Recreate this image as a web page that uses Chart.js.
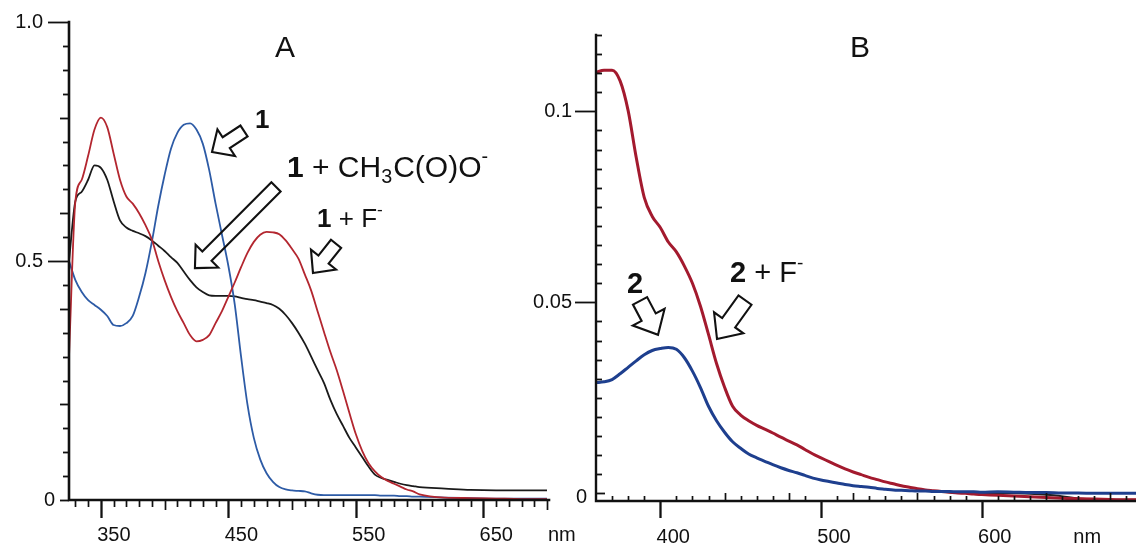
<!DOCTYPE html>
<html><head><meta charset="utf-8">
<script src="https://cdn.jsdelivr.net/npm/chart.js@4.4.1/dist/chart.umd.min.js"></script>
<style>
html,body{margin:0;padding:0;background:#fff;}
#wrap{position:relative;width:1136px;height:547px;overflow:hidden;background:#fff;}
#cA{position:absolute;left:0;top:0;}
#cB{position:absolute;left:520px;top:0;}
</style></head><body>
<div id="wrap"><canvas id="cA" width="600" height="547"></canvas><canvas id="cB" width="616" height="547"></canvas></div>
<script>
// ---------- Panel A data (wavelength nm, absorbance) ----------
const nmA = [325,330,335,340,345,350,355,360,365,370,375,380,385,390,395,400,405,410,415,420,425,430,435,440,445,450,455,460,465,470,475,480,485,490,495,500,505,510,515,520,525,530,535,540,545,550,555,560,565,570,575,580,585,590,595,600,620,640,660,680,700];
const absA_1 = [0.50,0.46,0.435,0.418,0.408,0.398,0.385,0.366,0.364,0.370,0.385,0.425,0.475,0.54,0.615,0.68,0.735,0.768,0.785,0.788,0.775,0.745,0.69,0.62,0.555,0.49,0.41,0.30,0.20,0.13,0.085,0.056,0.038,0.027,0.022,0.02,0.019,0.018,0.014,0.011,0.010,0.010,0.010,0.010,0.010,0.010,0.010,0.010,0.010,0.009,0.009,0.009,0.008,0.008,0.007,0.007,0.005,0.004,0.003,0.003,0.003];
const absA_1F = [0.30,0.625,0.67,0.72,0.775,0.80,0.78,0.725,0.67,0.635,0.62,0.60,0.575,0.545,0.50,0.46,0.425,0.395,0.37,0.345,0.332,0.335,0.345,0.37,0.395,0.425,0.455,0.487,0.517,0.54,0.555,0.561,0.56,0.556,0.543,0.525,0.505,0.472,0.438,0.395,0.352,0.31,0.272,0.228,0.182,0.138,0.103,0.077,0.06,0.048,0.04,0.034,0.028,0.022,0.018,0.012,0.005,0.004,0.003,0.002,0.002];
const absA_1Ac = [0.50,0.625,0.645,0.67,0.70,0.695,0.67,0.625,0.585,0.570,0.563,0.558,0.552,0.543,0.532,0.521,0.508,0.496,0.478,0.46,0.445,0.435,0.428,0.427,0.427,0.427,0.426,0.423,0.42,0.418,0.415,0.412,0.408,0.400,0.387,0.37,0.35,0.327,0.30,0.272,0.245,0.21,0.18,0.155,0.13,0.11,0.09,0.07,0.053,0.046,0.042,0.038,0.034,0.031,0.029,0.027,0.024,0.021,0.02,0.02,0.02];
const xTickLabelsA = [350,450,550,650];
const yTickLabelsA = [0,0.5,1.0];
const yTickTextA = ['0','0.5','1.0'];

// ---------- Panel B data ----------
const nmB = [360,365,370,375,380,385,390,395,400,405,410,415,420,425,430,435,440,445,450,455,460,465,470,475,480,485,490,495,500,505,510,515,520,525,530,535,540,545,550,555,560,565,570,575,580,585,590,595,600,610,620,630,640,650,660,670,680,690,700];
const absB_2 = [0.029,0.0292,0.0298,0.0313,0.033,0.0347,0.0363,0.0374,0.0379,0.0382,0.0377,0.0355,0.032,0.0277,0.0228,0.019,0.016,0.0135,0.0118,0.0103,0.0093,0.0084,0.0075,0.0067,0.006,0.0054,0.0047,0.004,0.0035,0.0031,0.0027,0.0023,0.002,0.0018,0.0016,0.0013,0.0011,0.0009,0.0008,0.0007,0.0006,0.0006,0.0005,0.0005,0.0005,0.0004,0.0004,0.0004,0.0003,0.0004,0.0003,0.0002,0.0002,0.0001,0.0001,0.0,0.0,0.0,0.0];
const absB_2F = [0.1102,0.1108,0.1108,0.108,0.1002,0.088,0.0775,0.0725,0.0696,0.0658,0.0632,0.0595,0.055,0.049,0.0416,0.034,0.0278,0.0228,0.0205,0.019,0.0178,0.0168,0.0158,0.0147,0.0137,0.0127,0.0115,0.0103,0.0093,0.0083,0.0073,0.0064,0.0056,0.0049,0.0042,0.0036,0.003,0.0025,0.002,0.0016,0.0012,0.0009,0.0007,0.0005,0.0003,0.0001,0.0,-0.0002,-0.0003,-0.0005,-0.0007,-0.0009,-0.0011,-0.0013,-0.0014,-0.0015,-0.0016,-0.0017,-0.0017];
const nmBase = [575,600,630,645,660,700];
const absBase = [0.0003,0.0001,-0.0001,-0.0005,-0.0013,-0.0017];
const xTickLabelsB = [400,500,600];
const yTickLabelsB = [0,0.05,0.1];
const yTickTextB = ['0','0.05','0.1'];

// ---------- annotations (in data coordinates) ----------
const notesA = {
  title: {text:'A', x:494.5, y:0.927},
  labels: [
    {x:470.9, y:0.778, size:26, segs:[{t:'1',b:1}]},
    {x:496.0, y:0.676, size:30, segs:[{t:'1',b:1},{t:' + CH'},{t:'3',sub:1},{t:'C(O)O'},{t:'-',sup:1}]},
    {x:519.6, y:0.571, size:26, segs:[{t:'1',b:1},{t:' + F'},{t:'-',sup:1}]}
  ],
  arrows: [
    {tip:[437.2,0.728], tail:[462.3,0.772]},
    {tip:[423.8,0.485], tail:[487.4,0.655]},
    {tip:[516.4,0.475], tail:[534.5,0.536]}
  ]
};
const notesB = {
  title: {text:'B', x:524.3, y:0.1142},
  labels: [
    {x:379.3, y:0.0525, size:29, segs:[{t:'2',b:1}]},
    {x:443.4, y:0.0553, size:29, segs:[{t:'2',b:1},{t:' + F'},{t:'-',sup:1}]}
  ],
  arrows: [
    {tip:[398.6,0.0415], tail:[387.4,0.0504]},
    {tip:[435.3,0.0404], tail:[452.7,0.0506]}
  ]
};

const FONT = '"Liberation Sans", Arial, Helvetica, sans-serif';

function pts(xs, ys){ return xs.map((x,i)=>({x:x, y:ys[i]})); }

function drawRich(ctx, segs, x, y, size){
  let cx = x;
  segs.forEach(s=>{
    const sz = (s.sub||s.sup) ? size*0.66 : size;
    ctx.font = (s.b?'bold ':'') + sz.toFixed(1) + 'px ' + FONT;
    const dy = s.sub ? size*0.22 : (s.sup ? -size*0.45 : 0);
    ctx.fillText(s.t, cx, y+dy);
    cx += ctx.measureText(s.t).width + (s.sub?1:0);
  });
}

function drawArrow(ctx, T, S, headLen, headW, shaftW){
  const dx=S[0]-T[0], dy=S[1]-T[1], L=Math.hypot(dx,dy);
  const ux=dx/L, uy=dy/L, nx=-uy, ny=ux;
  const Hx=T[0]+ux*headLen, Hy=T[1]+uy*headLen;
  const p=[
    [T[0],T[1]],
    [Hx+nx*headW/2, Hy+ny*headW/2],
    [Hx+nx*shaftW/2, Hy+ny*shaftW/2],
    [S[0]+nx*shaftW/2, S[1]+ny*shaftW/2],
    [S[0]-nx*shaftW/2, S[1]-ny*shaftW/2],
    [Hx-nx*shaftW/2, Hy-ny*shaftW/2],
    [Hx-nx*headW/2, Hy-ny*headW/2]
  ];
  ctx.beginPath();
  ctx.moveTo(p[0][0],p[0][1]);
  for(let i=1;i<p.length;i++) ctx.lineTo(p[i][0],p[i][1]);
  ctx.closePath();
  ctx.stroke();
}

function decor(spec){
  return {
    id: 'decor'+spec.name,
    afterDatasetsDraw(chart){
      const ctx=chart.ctx, xs=chart.scales.x, ys=chart.scales.y, ca=chart.chartArea;
      ctx.save();
      ctx.strokeStyle='#111'; ctx.fillStyle='#111';
      // axis lines
      ctx.lineWidth=spec.axisW; ctx.lineCap='square';
      ctx.beginPath();
      ctx.moveTo(ca.left, ca.top); ctx.lineTo(ca.left, ca.bottom); ctx.lineTo(ca.right+2, ca.bottom);
      ctx.stroke();
      ctx.lineCap='butt';
      // y ticks
      ctx.lineWidth=1.8;
      spec.yTicks(ys).forEach(t=>{
        const y=Math.round(ys.getPixelForValue(t.v))+0.5;
        ctx.beginPath(); ctx.moveTo(ca.left-t.out, y); ctx.lineTo(ca.left+t.inn, y); ctx.stroke();
      });
      // x ticks
      spec.xTicks().forEach(t=>{
        const x=Math.round(xs.getPixelForValue(t.v))+0.5;
        ctx.lineWidth = t.major ? 2.3 : 1.7;
        ctx.beginPath(); ctx.moveTo(x, ca.bottom-t.up); ctx.lineTo(x, ca.bottom+t.down); ctx.stroke();
      });
      // y tick labels
      ctx.font='20px '+FONT; ctx.textAlign='right'; ctx.textBaseline='middle';
      spec.yLabels.forEach(l=>{
        ctx.fillText(l.text, ca.left-l.gap, ys.getPixelForValue(l.v)+l.dy);
      });
      // x tick labels
      ctx.font='20px '+FONT; ctx.textAlign='center'; ctx.textBaseline='middle';
      spec.xLabels.forEach(v=>{
        ctx.fillText(String(v), xs.getPixelForValue(v)+13, ca.bottom+spec.xLabelDy);
      });
      // unit
      ctx.textAlign='left';
      ctx.fillText('nm', xs.getPixelForValue(spec.unitX)+spec.unitDx, ca.bottom+spec.xLabelDy);
      // title
      const n=spec.notes;
      ctx.font='30px '+FONT; ctx.textAlign='center'; ctx.textBaseline='alphabetic';
      ctx.fillText(n.title.text, xs.getPixelForValue(n.title.x), ys.getPixelForValue(n.title.y));
      // labels
      ctx.textAlign='left';
      n.labels.forEach(l=>{
        drawRich(ctx, l.segs, xs.getPixelForValue(l.x), ys.getPixelForValue(l.y), l.size);
      });
      // arrows
      ctx.lineWidth=2.1; ctx.lineJoin='miter';
      n.arrows.forEach(a=>{
        const T=[xs.getPixelForValue(a.tip[0]), ys.getPixelForValue(a.tip[1])];
        const S=[xs.getPixelForValue(a.tail[0]), ys.getPixelForValue(a.tail[1])];
        drawArrow(ctx, T, S, spec.arrow[0], spec.arrow[1], spec.arrow[2]);
      });
      ctx.restore();
    }
  };
}

const near=(a,b)=>Math.abs(a-b)<1e-6;

const specA = {
  name:'A', axisW:2.6, arrow:[17,32,13],
  yTicks(){
    const out=[];
    for(let k=0;k<=20;k++){
      const v=k*0.05;
      let len=6;
      if(yTickLabelsA.some(l=>near(l,v)) && v>0) len=21;
      else if(k%4===0) len=9;
      out.push({v:v,out:len,inn:0});
    }
    return out;
  },
  xTicks(){
    const out=[];
    for(let nm=330;nm<=700;nm+=10){
      if(xTickLabelsA.includes(nm)) out.push({v:nm,up:0,down:18,major:1});
      else if(nm%100===0) out.push({v:nm,up:0,down:10});
      else out.push({v:nm,up:0,down:7});
    }
    return out;
  },
  yLabels: yTickLabelsA.map((v,i)=>({v:v,text:yTickTextA[i],gap: v>0?26:14, dy:0})),
  xLabels: xTickLabelsA, xLabelDy:35, unitX:700, unitDx:1,
  notes: notesA
};

const specB = {
  name:'B', axisW:2.4, arrow:[20,36,16],
  yTicks(){
    const out=[];
    for(let k=0;k<=24;k++){
      const v=k*0.005;
      if(yTickLabelsB.some(l=>near(l,v)) && v>0) out.push({v:v,out:21,inn:0});
      else if(k===0) out.push({v:v,out:0,inn:9});
      else out.push({v:v,out:0,inn:6});
    }
    return out;
  },
  xTicks(){
    const out=[];
    for(let nm=370;nm<=700;nm+=10){
      if(xTickLabelsB.includes(nm)) out.push({v:nm,up:0,down:17,major:1});
      else if(nm%40===0) out.push({v:nm,up:8,down:0});
      else out.push({v:nm,up:5,down:0});
    }
    return out;
  },
  yLabels: yTickLabelsB.map((v,i)=>({v:v,text:yTickTextB[i],gap: v>0?24:9, dy: v>0?0:4})),
  xLabels: xTickLabelsB, xLabelDy:36, unitX:657, unitDx:0,
  notes: notesB
};

const common = (pad, xr, yr) => ({
  responsive:false, animation:false, devicePixelRatio:1,
  layout:{padding:pad},
  elements:{point:{radius:0}, line:{tension:0.25, cubicInterpolationMode:'monotone'}},
  plugins:{legend:{display:false}, tooltip:{enabled:false}},
  scales:{
    x:{type:'linear', min:xr[0], max:xr[1], display:false},
    y:{type:'linear', min:yr[0], max:yr[1], display:false}
  }
});

new Chart(document.getElementById('cA'), {
  type:'line',
  data:{datasets:[
    {label:'1 + F-', data:pts(nmA,absA_1F), borderColor:'#b3262f', borderWidth:1.8, order:1},
    {label:'1', data:pts(nmA,absA_1), borderColor:'#2d5ba6', borderWidth:1.8, order:2},
    {label:'1 + CH3C(O)O-', data:pts(nmA,absA_1Ac), borderColor:'#1a1a1a', borderWidth:1.8, order:3}
  ]},
  options: common({left:69,right:53,top:22,bottom:47},[325,700],[0,1]),
  plugins:[decor(specA)]
});

new Chart(document.getElementById('cB'), {
  type:'line',
  data:{datasets:[
    {label:'2', data:pts(nmB,absB_2), borderColor:'#1e3f8e', borderWidth:3, order:1},
    {label:'2 + F-', data:pts(nmB,absB_2F), borderColor:'#a31a2e', borderWidth:3, order:2},
    {label:'baseline', data:pts(nmBase,absBase), borderColor:'#222', borderWidth:1.8, order:3}
  ]},
  options: common({left:76,right:0,top:35,bottom:46},[360,696],[-0.002,0.12]),
  plugins:[decor(specB)]
});
</script>
</body></html>
